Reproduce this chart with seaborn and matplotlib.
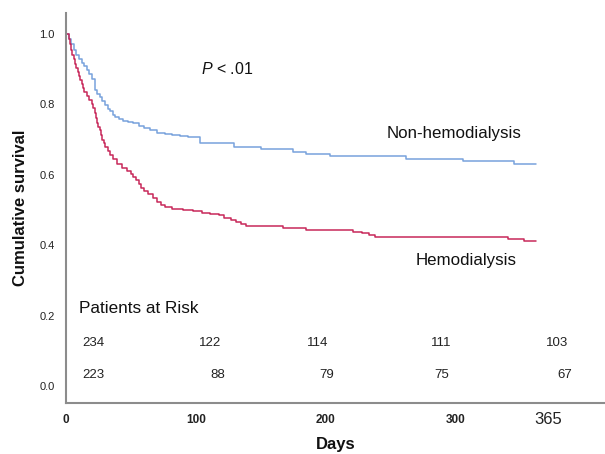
"""Kaplan-Meier style survival curves: hemodialysis vs non-hemodialysis."""

import matplotlib

matplotlib.use("Agg")
import matplotlib.pyplot as plt
import pandas as pd
import seaborn as sns

# step curve values (day of event, survival after event)
non_hd_days = [0, 2, 4, 6, 8, 10, 12, 14, 16, 18, 20, 22, 24, 26, 28, 30, 32, 34, 36, 38,
               41, 44, 48, 52, 56, 60, 65, 70, 76, 82, 88, 94, 103, 129, 150, 175, 185,
               203, 262, 306, 345, 362]
non_hd_surv = [1.0, 0.985, 0.97, 0.955, 0.94, 0.928, 0.918, 0.908, 0.898, 0.885, 0.872,
               0.84, 0.83, 0.82, 0.81, 0.798, 0.788, 0.78, 0.77, 0.765, 0.758, 0.754, 0.75,
               0.746, 0.738, 0.732, 0.726, 0.72, 0.717, 0.713, 0.71, 0.707, 0.69, 0.678,
               0.672, 0.666, 0.66, 0.654, 0.645, 0.638, 0.631, 0.631]

hd_days = [0, 2, 3, 4, 5, 6, 7, 8, 9, 10, 11, 12, 13, 14, 16, 18, 20, 21, 22, 23, 24, 25,
           26, 27, 28, 29, 30, 32, 34, 36, 39, 43, 47, 50, 52, 54, 56, 58, 60, 63, 67, 70,
           73, 76, 82, 90, 98, 105, 111, 118, 122, 127, 131, 135, 139, 167, 185, 221, 228,
           233, 238, 340, 353, 362]
hd_surv = [1.0, 0.985, 0.97, 0.955, 0.94, 0.928, 0.915, 0.903, 0.892, 0.88, 0.868, 0.857,
           0.846, 0.836, 0.824, 0.812, 0.8, 0.79, 0.775, 0.76, 0.748, 0.737, 0.726, 0.713,
           0.7, 0.69, 0.68, 0.667, 0.656, 0.646, 0.632, 0.62, 0.61, 0.602, 0.594, 0.585,
           0.575, 0.563, 0.553, 0.545, 0.535, 0.522, 0.515, 0.508, 0.503, 0.5, 0.497, 0.493,
           0.489, 0.485, 0.478, 0.472, 0.466, 0.46, 0.455, 0.449, 0.444, 0.439, 0.435, 0.43,
           0.423, 0.418, 0.411, 0.411]

# patients at risk table
risk_days_top = [21, 111, 194, 289, 378]
risk_top = [234, 122, 114, 111, 103]
risk_days_bottom = [21, 117, 201, 289, 384]
risk_bottom = [223, 88, 79, 75, 67]

x_ticks = [0, 100, 200, 300]
y_ticks = [0.0, 0.2, 0.4, 0.6, 0.8, 1.0]

curves = pd.concat([
    pd.DataFrame({"day": non_hd_days, "survival": non_hd_surv, "group": "Non-hemodialysis"}),
    pd.DataFrame({"day": hd_days, "survival": hd_surv, "group": "Hemodialysis"}),
])

sns.set_style("white")
plt.rcParams["font.family"] = ["Liberation Sans", "DejaVu Sans"]
plt.rcParams["mathtext.fontset"] = "custom"
plt.rcParams["mathtext.it"] = "Liberation Sans:italic"

fig = plt.figure(figsize=(6.05, 4.54), dpi=100)
ax = fig.add_axes([0.109, 0.112, 0.891, 0.86])

sns.lineplot(
    data=curves, x="day", y="survival", hue="group", estimator=None,
    drawstyle="steps-post", linewidth=1.1, legend=False, ax=ax,
    palette={"Non-hemodialysis": "#78a2dc", "Hemodialysis": "#c8285a"},
)

ax.set_xlim(0, 415)
ax.set_ylim(-0.048, 1.06)
ax.set_xticks(x_ticks)
ax.set_xticklabels([str(t) for t in x_ticks], fontsize=8.5, fontweight="bold")
ax.set_yticks(y_ticks)
ax.set_yticklabels([f"{t:.1f}" for t in y_ticks], fontsize=8)
ax.tick_params(length=0, pad=8, colors="#222222")

for side in ["top", "right"]:
    ax.spines[side].set_visible(False)
for side in ["left", "bottom"]:
    ax.spines[side].set_color("#8c8c8c")
    ax.spines[side].set_linewidth(1.5)

ax.set_xlabel("Days", fontsize=12, fontweight="bold", labelpad=8, color="#111111")
ax.set_ylabel("Cumulative survival", fontsize=12, fontweight="bold", labelpad=8,
              color="#111111")

# 365 label drawn separately, larger and not bold
ax.text(371, -0.093, "365", fontsize=12, ha="center", va="center", color="#222222")

ax.text(104, 0.90, "$P$ < .01", fontsize=11.5, va="center", color="#111111")
ax.text(247, 0.716, "Non-hemodialysis", fontsize=12.2, va="center", color="#111111")
ax.text(269, 0.356, "Hemodialysis", fontsize=12.2, va="center", color="#111111")
ax.text(10, 0.221, "Patients at Risk", fontsize=12.3, va="center", color="#111111")

for day, n in zip(risk_days_top, risk_top):
    ax.text(day, 0.122, str(n), fontsize=9.5, ha="center", va="center", color="#222222")
for day, n in zip(risk_days_bottom, risk_bottom):
    ax.text(day, 0.032, str(n), fontsize=9.5, ha="center", va="center", color="#222222")

fig.savefig("out.png", dpi=100)
plt.close(fig)
